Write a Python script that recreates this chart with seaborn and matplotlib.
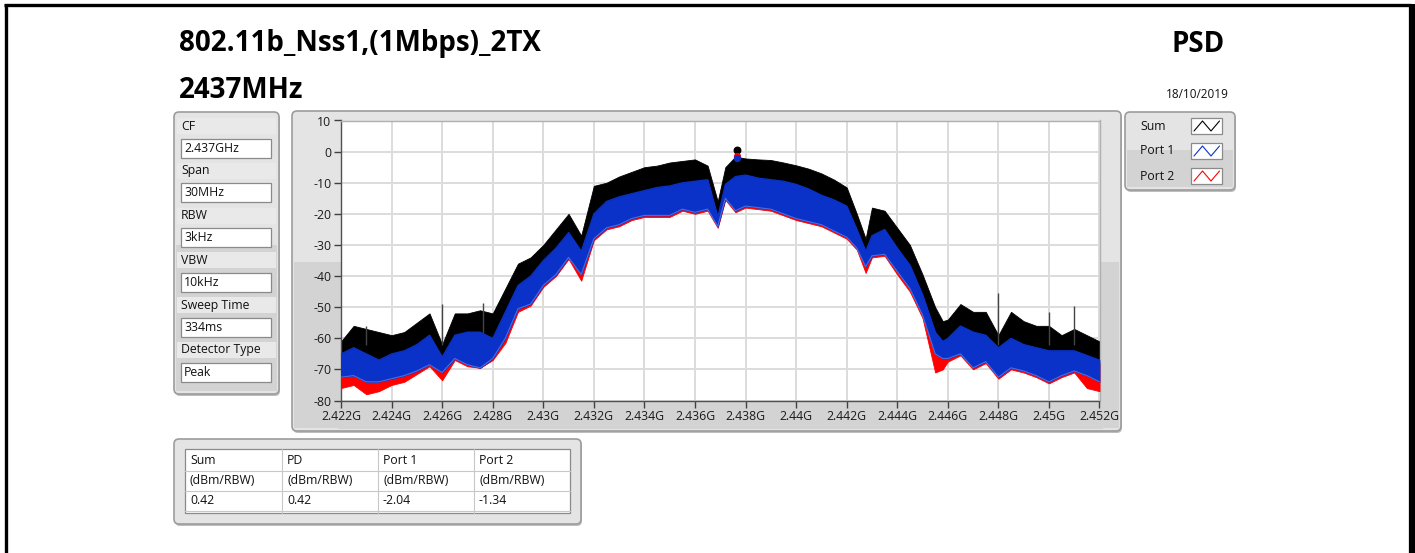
import matplotlib
matplotlib.use("Agg")
import matplotlib.pyplot as plt
import seaborn as sns
import pandas as pd
from matplotlib.patches import FancyBboxPatch, Rectangle

# PSD trace (MHz, dBm/RBW); bands = peak / floor of the noisy trace
freq = [2422.0, 2422.5, 2423.0, 2423.5, 2424.0, 2424.5, 2425.0, 2425.5, 2426.0, 2426.5,
        2427.0, 2427.5, 2428.0, 2428.5, 2429.0, 2429.5, 2430.0, 2430.5, 2431.0, 2431.5,
        2432.0, 2432.5, 2433.0, 2433.5, 2434.0, 2434.5, 2435.0, 2435.5, 2436.0, 2436.5,
        2436.9, 2437.2, 2437.6, 2438.0, 2438.5, 2439.0, 2439.5, 2440.0, 2440.5, 2441.0,
        2441.5, 2442.0, 2442.4, 2442.75, 2443.0, 2443.5, 2444.0, 2444.5, 2445.0, 2445.5,
        2445.8, 2446.0, 2446.5, 2447.0, 2447.5, 2448.0, 2448.5, 2449.0, 2449.5, 2450.0,
        2450.5, 2451.0, 2451.5, 2452.0]
sum_hi = [-61, -56, -57, -58, -59, -58, -55, -52, -62, -52,
          -52, -51, -52, -44, -36, -34, -30, -25, -20, -27,
          -11, -10, -8, -6.5, -5, -4.5, -3.5, -3, -2.5, -4.5,
          -16, -5, -1.6, -2.2, -2.5, -2.7, -3.5, -4.4, -5.5, -7,
          -9, -11.5, -20, -28, -18, -19, -24.5, -30, -39.5, -50,
          -54.5, -54, -49, -51.5, -51.5, -59, -51.5, -54.5, -56, -56,
          -59, -57, -59, -61]
port1_hi = [-65, -63, -65, -67, -65, -64, -62, -59, -66, -59,
            -58, -58, -60, -51.5, -43, -40, -35, -31, -26, -32,
            -20, -16, -14.5, -13.5, -12.5, -11.5, -11, -10, -9.5, -9,
            -21, -10.5, -8, -7.5, -8.5, -9, -9.5, -10.5, -12, -14,
            -15.5, -17.5, -25, -32, -27, -25, -31, -36.5, -46, -58,
            -61, -60, -56, -58, -59, -63, -60, -62, -63, -64,
            -64, -64, -65.5, -67]
port1_lo = [-72.5, -72, -74, -74, -73, -72, -70.5, -68.5, -71, -66.5,
            -68.5, -69.5, -66.5, -60, -50.5, -49, -43, -39.5, -34, -39.5,
            -28, -24.5, -23.5, -21.5, -20.5, -20.5, -20.5, -18.5, -19.5, -18.5,
            -24, -15, -19, -17.5, -18, -18.5, -20, -21.5, -22.5, -23.5,
            -25.5, -27.5, -31, -37, -33.5, -33, -38.5, -44, -52.5, -65,
            -66.5, -66.5, -65, -69.5, -67.5, -72.5, -69.5, -70.5, -72, -74,
            -72, -70.5, -72, -74]
port2_hi = [-66, -64, -66, -68, -66, -65, -63, -60, -67, -60,
            -59, -59, -61, -53, -44, -41, -36, -32, -27, -33,
            -21, -17, -15.5, -14.5, -13.5, -12.5, -12, -11, -10.5, -10,
            -22, -11.5, -9, -8.5, -9.5, -10, -10.5, -11.5, -13, -15,
            -16.5, -18.5, -26, -33, -28, -26, -32, -37.5, -47, -59,
            -62, -61, -57, -59, -60, -64, -61, -63, -64, -65,
            -65, -65, -66.5, -68]
port2_lo = [-76, -75, -78, -77, -75, -74, -71.5, -69, -73.5, -67,
            -69, -69.5, -67, -61.5, -51.5, -49.5, -43.5, -40, -34.5, -41.5,
            -28.5, -25, -24, -22, -21, -21, -21, -19, -20, -19,
            -24.5, -15.5, -19.5, -18, -18.5, -19, -20.5, -22, -23, -24,
            -26, -28, -31.5, -39, -34, -33.5, -39.5, -45, -53.5, -71,
            -70, -67.5, -65.5, -70, -68, -73, -70, -71, -72.5, -74.5,
            -72.5, -71, -76, -77]

# isolated spikes of the Sum trace
spike_freq = [2423.0, 2426.0, 2427.6, 2448.0, 2450.0, 2451.0]
spike_top = [-56, -49, -48.5, -45.5, -51.5, -49.5]

# peak marker and summary table
peak_freq = 2437.68
peak_names = ["Sum", "PD", "Port 1", "Port 2"]
peak_vals = ["0.42", "0.42", "-2.04", "-1.34"]
peak_sum, peak_p1, peak_p2 = 0.42, -2.04, -1.34

params = [("CF", "2.437GHz"), ("Span", "30MHz"), ("RBW", "3kHz"), ("VBW", "10kHz"),
          ("Sweep Time", "334ms"), ("Detector Type", "Peak")]
legend_names = ["Sum", "Port 1", "Port 2"]
colors = {"Sum": "#000000", "Port 1": "#0a32c8", "Port 2": "#ff0000"}

xticks = [2422 + 2 * i for i in range(16)]
yticks = [10, 0, -10, -20, -30, -40, -50, -60, -70, -80]

sns.set_theme(style="white")
plt.rcParams["font.family"] = ["Open Sans", "DejaVu Sans"]

W, H = 1415, 553
fig = plt.figure(figsize=(W / 100, H / 100), dpi=100)
fig.patch.set_facecolor("white")

# background canvas in pixel coordinates (y down)
bg = fig.add_axes([0, 0, 1, 1])
bg.set_xlim(0, W)
bg.set_ylim(H, 0)
bg.axis("off")

# black frame of the screenshot
bg.plot([5.5, 5.5], [4, H], color="black", lw=2.4, solid_capstyle="butt")
bg.plot([4, 1411], [5, 5], color="black", lw=2.4, solid_capstyle="butt")
bg.plot([1412, 1412], [4, H], color="black", lw=4.5, solid_capstyle="butt")


def panel(x0, y0, x1, y1, split=None):
    bg.add_patch(FancyBboxPatch((x0 + 1, y0 + 2), x1 - x0, y1 - y0,
                                boxstyle="round,pad=0,rounding_size=5",
                                fc="#bdbdbd", ec="none", zorder=1))
    bg.add_patch(FancyBboxPatch((x0, y0), x1 - x0, y1 - y0,
                                boxstyle="round,pad=0,rounding_size=5",
                                fc="#e4e4e4", ec="#9c9c9c", lw=1.2, zorder=2))
    if split is not None:
        bg.add_patch(Rectangle((x0 + 2, split), x1 - x0 - 4, y1 - split - 3,
                               fc="#d3d3d3", ec="none", zorder=2.5))


# titles
title_kw = dict(fontsize=20, fontweight="bold", va="center", color="black")
bg.text(179, 44, "802.11b_Nss1,(1Mbps)_2TX", ha="left", **title_kw)
bg.text(179, 90, "2437MHz", ha="left", **title_kw)
bg.text(1225, 44, "PSD", ha="right", **title_kw)
bg.text(1229, 95, "18/10/2019", fontsize=8.5, va="center", ha="right", color="#111111")

small = dict(fontsize=8.8, va="center", ha="left", color="#111111")

# parameter panel
panel(174, 112, 279, 394, split=245)
for i, (lab, val) in enumerate(params):
    yl = 126 + 44.8 * i
    bg.add_patch(Rectangle((177, yl - 8), 99, 16, fc="#e9e9e9", ec="none", zorder=3))
    bg.text(181, yl, lab, zorder=4, **small)
    yb = yl + 22
    bg.add_patch(Rectangle((181, yb - 9.5), 90, 19, fc="white", ec="#8a8a8a", lw=0.9, zorder=3))
    bg.text(184, yb, val, zorder=4, **small)

# graph panel
panel(292, 111, 1121, 431, split=262)
bg.add_patch(Rectangle((338, 401), 765, 28, fc="#d3d3d3", ec="none", zorder=2.6))

# legend panel
panel(1125, 112, 1235, 190, split=150)
for i, name in enumerate(legend_names):
    yc = 126 + 25 * i
    bg.text(1140, yc, name, zorder=4, **small)
    bg.add_patch(Rectangle((1191, yc - 8), 31, 16, fc="white", ec="#8a8a8a", lw=0.9, zorder=3))
    bg.plot([1194, 1202.5, 1211, 1219.5], [yc + 5, yc - 5, yc + 5, yc - 5],
            color=colors[name], lw=0.8, zorder=4)

# peak table
panel(174, 439, 581, 524)
bg.add_patch(Rectangle((185, 449), 385, 64, fc="white", ec="#8a8a8a", lw=0.9, zorder=3))
col_x = [185, 282, 378, 474]
for cx in col_x[1:]:
    bg.plot([cx, cx], [449, 513], color="#c8c8c8", lw=0.8, zorder=4)
for ry in [471, 491, 511]:
    bg.plot([185, 570], [ry, ry], color="#c8c8c8", lw=0.8, zorder=4)
for cx, name, val in zip(col_x, peak_names, peak_vals):
    bg.text(cx + 5, 460, name, zorder=5, **small)
    bg.text(cx + 5, 481, "(dBm/RBW)", zorder=5, **small)
    bg.text(cx + 5, 501, val, zorder=5, **small)

# spectrum plot
ax = fig.add_axes([341 / W, 1 - 400.5 / H, 758.5 / W, 280 / H])
ax.set_zorder(5)
ax.set_facecolor("white")

ax.fill_between(freq, sum_hi, port1_lo, color=colors["Sum"], lw=0.6, zorder=2)
ax.vlines(spike_freq, -62, spike_top, color="#444444", lw=1.0, zorder=2)
ax.fill_between(freq, port2_hi, port2_lo, color=colors["Port 2"], lw=0.6, zorder=3)
ax.fill_between(freq, port1_hi, port1_lo, color=colors["Port 1"], lw=0.6, zorder=4)

edges = pd.DataFrame({
    "freq": freq * 2,
    "level": port1_lo + port1_hi,
    "edge": ["Port 1 low"] * len(freq) + ["Port 1 high"] * len(freq),
})
sns.lineplot(data=edges, x="freq", y="level", hue="edge",
             palette={"Port 1 low": "#4a6ee0", "Port 1 high": "#0a32c8"},
             lw=0.8, legend=False, ax=ax, zorder=5)

ax.scatter([peak_freq], [peak_sum], s=22, color=colors["Sum"], zorder=7)
ax.scatter([peak_freq], [peak_p2], s=18, color=colors["Port 2"], zorder=8)
ax.scatter([peak_freq], [peak_p1], s=18, color=colors["Port 1"], zorder=9)

ax.set_xlim(2422, 2452)
ax.set_ylim(-80, 10)
ax.set_xticks(xticks)
ax.set_xticklabels([f"{v / 1000:g}G" for v in xticks])
ax.set_yticks(yticks)
ax.set_yticklabels([str(v) for v in yticks])
ax.set_xlabel("")
ax.set_ylabel("")
ax.grid(True, color="#dcdcdc", lw=1.4)
ax.set_axisbelow(True)
for side in ["top", "right"]:
    ax.spines[side].set_color("#b0b0b0")
    ax.spines[side].set_linewidth(1.0)
for side in ["left", "bottom"]:
    ax.spines[side].set_color("#505050")
    ax.spines[side].set_linewidth(1.0)
ax.tick_params(direction="out", length=5, width=1, color="#404040",
               labelsize=8.8, labelcolor="#1a1a1a", pad=2, bottom=True, left=True)

fig.savefig("out.png", dpi=100, facecolor="white")
